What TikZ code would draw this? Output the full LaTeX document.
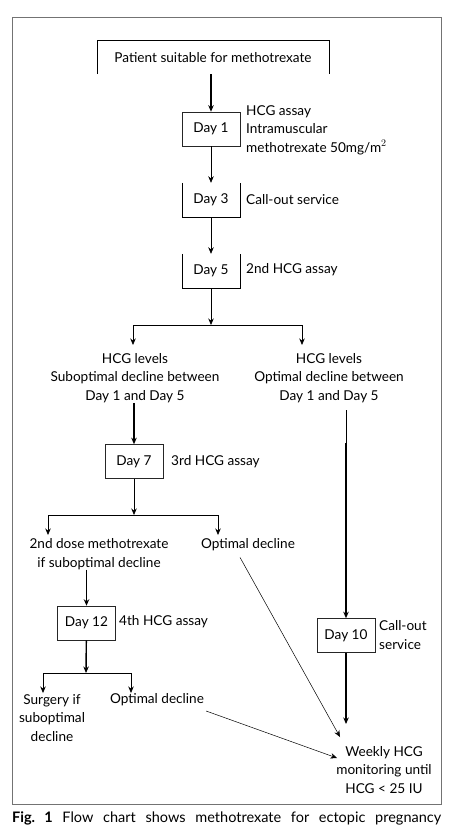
\documentclass[tikz,border=0pt]{standalone}
\usepackage{fontspec}
\setmainfont{Lato}
\usetikzlibrary{arrows.meta,calc}

\tikzset{
  daybox/.style={draw=black!85, line width=0.6pt, minimum width=58pt, minimum height=34pt, inner sep=0pt},
  openbox/.style={minimum width=58pt, minimum height=34pt, inner sep=0pt},
  note/.style={align=left, anchor=west, inner sep=0pt},
  txt/.style={align=center, inner sep=0pt},
  arr/.style={-{Stealth[length=6.5pt,width=5.5pt]}, line width=0.7pt},
  arrb/.style={arr, line width=1.4pt},
}

\begin{document}
\begin{tikzpicture}[x=1pt,y=-1pt,font=\fontsize{13.6}{18.5}\selectfont]
		\useasboundingbox (0,0) rectangle (474,837);
		% 外框
		\draw[black!55, line width=0.8pt] (12,17) rectangle (441,804);
		% 起点
		\node[txt, minimum width=232pt, minimum height=33pt] (patient) at (213,57.5) {Patient suitable for methotrexate};
		\draw[line width=0.6pt] (patient.south west) -- (patient.north west) -- (patient.north east) -- (patient.south east);
		% 主干方框
		\node[daybox] (day1) at (211,129) {Day 1};
		\node[note] (lbl1) at (246,130) {HCG assay\\Intramuscular\\methotrexate 50mg/m$^2$};
		\node[openbox] (day3) at (211,200) {Day 3};
		\draw[line width=0.6pt] (day3.north west) -- (day3.south west) -- (day3.south east) -- (day3.north east);
		\node[note] (lbl3) at (246,200) {Call-out service};
		\node[openbox] (day5) at (211,271) {Day 5};
		\draw[line width=0.6pt] (day5.north west) -- (day5.south west) -- (day5.south east) -- (day5.north east);
		\node[note] (lbl5) at (246,270) {2nd HCG assay};
		% 第一次分支
		\node[txt] (lvlA) at (135,378) {HCG levels\\Suboptimal decline between\\Day 1 and Day 5};
		\node[txt] (lvlB) at (329,378) {HCG levels\\Optimal decline between\\Day 1 and Day 5};
		\coordinate (s1) at (211,325);
		\coordinate (inA) at (133,345);
		\coordinate (inB) at (302,345);
		% 左侧
		\node[daybox] (day7) at (134,461.5) {Day 7};
		\node[note] (lbl7) at (171,462) {3rd HCG assay};
		\node[txt] (dose) at (99,554) {2nd dose methotrexate\\if suboptimal decline};
		\node[txt] (opt1) at (248,545) {Optimal decline};
		\coordinate (s2) at (134,515);
		\coordinate (inD) at (48,535);
		\coordinate (inO) at (218,535);
		\node[daybox] (day12) at (86.5,623) {Day 12};
		\node[note] (lbl12) at (119,622) {4th HCG assay};
		\node[txt] (surg) at (52,718) {Surgery if\\suboptimal\\decline};
		\node[txt] (opt2) at (157,700) {Optimal decline};
		\coordinate (s3) at (86,673);
		\coordinate (inS) at (43,693);
		\coordinate (inP) at (131,693);
		% 右侧
		\coordinate (t1) at (346,410);
		\coordinate (b1) at (346,443);
		\node[daybox] (day10) at (346,635.5) {Day 10};
		\node[note] (lbl10) at (379,635) {Call-out\\service};
		\node[txt] (weekly) at (384,770) {Weekly HCG\\monitoring until\\HCG < 25 IU};
		\coordinate (w0) at (346,724);
		\coordinate (w1) at (340,737);
		\coordinate (w2) at (337,758);
		% 箭头
		\draw[arrb] (patient.south -| day1) -- (day1);
		\draw[arr] (day1) -- (day3);
		\draw[arr] (day3) -- (day5);
		\draw[arr] (day5) -- (s1);
		\draw[arr] (s1) -| (inA);
		\draw[arr] (s1) -| (inB);
		\draw[arrb] (lvlA.south -| day7) -- (day7);
		\draw[arr] (day7) -- (s2);
		\draw[arr] (s2) -| (inD);
		\draw[arr] (s2) -| (inO);
		\draw[arr, line width=1pt] (dose.south -| day12) -- (day12);
		\draw[arrb] (day12) -- (s3);
		\draw[arr] (s3) -| (inS);
		\draw[arr] (s3) -| (inP);
		\draw[line width=0.8pt] (t1) -- (b1);
		\draw[arr, line width=2.6pt] (b1) -- (day10);
		\draw[arrb] (day10) -- (w0);
		\draw[arr, line width=0.5pt] ($(opt1.south)+(-8,6)$) -- (w1);
		\draw[arr, line width=0.5pt] ($(opt2.east)+(2,11)$) -- (w2);
		% 图注
		\node[anchor=west, inner sep=0pt, font=\fontsize{14.5}{18}\selectfont\frenchspacing] (cap) at (12,818) {\makebox[429pt][s]{\textbf{Fig.~1} Flow chart shows methotrexate for ectopic pregnancy}};
	\end{tikzpicture}
\end{document}
